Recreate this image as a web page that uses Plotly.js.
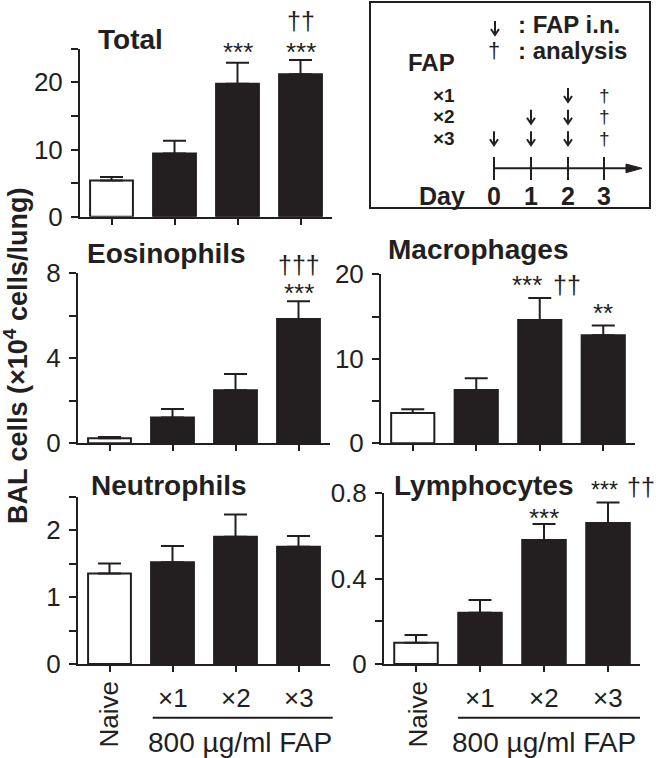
<!DOCTYPE html>
<html>
<head>
<meta charset="utf-8">
<script src="https://cdn.plot.ly/plotly-3.0.1.min.js"></script>
<style>html,body{margin:0;padding:0;background:#fff;}#chart{width:656px;height:758px;}</style>
</head>
<body>
<div id="chart"></div>
<script>
// ---- data ----
const categories = ['Naive', '×1', '×2', '×3'];
const totalMean = [5.4, 9.4, 19.8, 21.2];
const totalErr  = [0.5, 1.9, 3.1, 2.1];
const eosMean   = [0.24, 1.22, 2.5, 5.85];
const eosErr    = [0.06, 0.39, 0.76, 0.83];
const macMean   = [3.6, 6.3, 14.6, 12.8];
const macErr    = [0.43, 1.4, 2.6, 1.15];
const neuMean   = [1.35, 1.52, 1.9, 1.75];
const neuErr    = [0.15, 0.24, 0.33, 0.16];
const lymMean   = [0.10, 0.24, 0.58, 0.66];
const lymErr    = [0.036, 0.06, 0.075, 0.095];
const panelTitles = ['Total', 'Eosinophils', 'Macrophages', 'Neutrophils', 'Lymphocytes'];
const groupLabel = '800 µg/ml FAP';
const yTitle = 'BAL cells (×10<sup>4</sup> cells/lung)';
const days = ['0', '1', '2', '3'];
const regimens = ['×1', '×2', '×3'];
const totalTicks = [0, 10, 20], totalMinor = [5, 15, 25];
const eosTicks = [0, 4, 8], eosMinor = [2, 6];
const macTicks = [0, 10, 20], macMinor = [5, 15];
const neuTicks = [0, 1, 2], neuMinor = [0.5, 1.5, 2.5];
const lymTicks = [0, 0.4, 0.8], lymMinor = [0.2, 0.6];

// ---- helpers ----
const W = 656, H = 758;
const px = v => v / W;
const py = v => 1 - v / H;
const DARK = '#231f20';
const FONT = 'Liberation Sans, Arial, sans-serif';

function barTrace(mean, err, idx) {
  const s = idx === 1 ? '' : String(idx);
  return {
    type: 'bar', x: categories, y: mean, xaxis: 'x' + s, yaxis: 'y' + s,
    width: 0.68,
    marker: { color: ['#ffffff', DARK, DARK, DARK], line: { color: DARK, width: 2 } },
    error_y: { type: 'data', symmetric: false, array: err, arrayminus: err.map(() => 0),
               color: DARK, thickness: 2, width: 11.5 },
    hoverinfo: 'skip', showlegend: false
  };
}
const data = [
  barTrace(totalMean, totalErr, 1),
  barTrace(eosMean, eosErr, 2),
  barTrace(macMean, macErr, 3),
  barTrace(neuMean, neuErr, 4),
  barTrace(lymMean, lymErr, 5)
];

function xax(l, r, anchor) {
  return { domain: [px(l), px(r)], range: [-0.5, 3.5], type: 'category', anchor: anchor,
    showline: true, linewidth: 2, linecolor: DARK, ticks: 'outside', ticklen: 6, tickwidth: 2,
    tickcolor: DARK, showticklabels: false, showgrid: false, zeroline: false, fixedrange: true };
}
function yax(top, bot, range, majors, minors, anchor) {
  return { domain: [py(bot), py(top)], range: range, anchor: anchor,
    showline: true, linewidth: 2, linecolor: DARK, ticks: 'outside', ticklen: 7, tickwidth: 2,
    tickcolor: DARK, tickmode: 'array', tickvals: majors, ticklabelstandoff: 3,
    minor: { tickmode: 'array', tickvals: minors, ticks: 'outside', ticklen: 7, tickwidth: 2,
             tickcolor: DARK, showgrid: false },
    tickfont: { family: FONT, size: 26, color: DARK },
    showgrid: false, zeroline: false, fixedrange: true };
}

const layout = {
  width: W, height: H, margin: { l: 0, r: 0, t: 0, b: 0 },
  paper_bgcolor: '#fff', plot_bgcolor: 'rgba(0,0,0,0)', showlegend: false,
  font: { family: FONT, color: DARK },
  xaxis:  xax(80, 332, 'y'),
  yaxis:  yax(48.7, 216.7, [0, 25], totalTicks, totalMinor, 'x'),
  xaxis2: xax(78, 330, 'y2'),
  yaxis2: yax(273.3, 443.3, [0, 8], eosTicks, eosMinor, 'x2'),
  xaxis3: xax(381, 635, 'y3'),
  yaxis3: yax(274.3, 443.3, [0, 20], macTicks, macMinor, 'x3'),
  xaxis4: xax(78, 330, 'y4'),
  yaxis4: yax(496.5, 664, [0, 2.5], neuTicks, neuMinor, 'x4'),
  xaxis5: xax(384, 640, 'y5'),
  yaxis5: yax(493, 664, [0, 0.8], lymTicks, lymMinor, 'x5'),
  annotations: [],
  shapes: []
};

const A = layout.annotations, S = layout.shapes;
function txt(text, x, y, opt) {
  opt = opt || {};
  A.push({ text: text, xref: 'paper', yref: 'paper', x: px(x), y: py(y),
    xanchor: opt.xanchor || 'center', yanchor: 'middle', showarrow: false,
    textangle: opt.angle || 0,
    font: { family: FONT, size: opt.size || 25, color: DARK, weight: opt.bold ? 'bold' : 'normal' } });
}
function catTxt(text, axis, cat, y, opt) {
  opt = opt || {};
  A.push({ text: text, xref: axis, yref: 'paper', x: cat, y: py(y), xanchor: 'center', yanchor: 'middle',
    showarrow: false, textangle: opt.angle || 0,
    font: { family: FONT, size: opt.size || 25, color: DARK, weight: opt.bold ? 'bold' : 'normal' } });
}
function line(x0, y0, x1, y1, w) {
  S.push({ type: 'line', xref: 'paper', yref: 'paper', x0: px(x0), y0: py(y0), x1: px(x1), y1: py(y1),
    line: { color: DARK, width: w || 2 } });
}

// panel titles
txt(panelTitles[0], 96, 40, { bold: true, size: 28, xanchor: 'left' });
txt(panelTitles[1], 85, 254, { bold: true, size: 28, xanchor: 'left' });
txt(panelTitles[2], 386, 249, { bold: true, size: 28, xanchor: 'left' });
txt(panelTitles[3], 89, 485, { bold: true, size: 28, xanchor: 'left' });
txt(panelTitles[4], 392, 485, { bold: true, size: 28, xanchor: 'left' });

// y title
txt(yTitle, 16, 356, { bold: true, size: 27, angle: -90 });

// significance marks
catTxt('***', 'x', categories[2], 52, { size: 26 });
catTxt('***', 'x', categories[3], 52, { size: 26 });
catTxt('††', 'x', categories[3], 21, { size: 25 });
catTxt('***', 'x2', categories[3], 293, { size: 26 });
catTxt('†††', 'x2', categories[3], 265, { size: 25 });
txt('***', 527, 285, { size: 26 });
txt('††', 567, 285, { size: 25 });
catTxt('**', 'x3', categories[3], 313, { size: 26 });
catTxt('***', 'x5', categories[2], 518, { size: 26 });
txt('***', 604, 490, { size: 23 });
txt('††', 641, 487, { size: 25 });

// bottom category labels
[['x4', 108], ['x5', 417]].forEach(([ax, nx]) => {
  txt(categories[0], nx, 714.5, { angle: -90, size: 26 });
  for (let i = 1; i < 4; i++) catTxt(categories[i], ax, categories[i], 698, { size: 26 });
});
line(152.7, 717.7, 332.7, 717.7, 2);
line(458, 717.7, 640, 717.7, 2);
txt(groupLabel, 240, 742, { size: 28 });
txt(groupLabel, 543.5, 742, { size: 28 });

// ---- protocol box ----
S.push({ type: 'rect', xref: 'paper', yref: 'paper', x0: px(370), y0: py(2), x1: px(650), y1: py(208),
  line: { color: DARK, width: 2 }, fillcolor: 'rgba(0,0,0,0)' });
const dayX = [494, 531, 568, 604];
function arrow(x, yt, yb) {
  S.push({ type: 'path', xref: 'paper', yref: 'paper',
    path: `M${px(x)},${py(yt)} L${px(x)},${py(yb)} M${px(x - 4)},${py(yb - 6)} L${px(x)},${py(yb)} L${px(x + 4)},${py(yb - 6)}`,
    line: { color: DARK, width: 2 } });
}
arrow(495, 21, 35);
txt('†', 494, 50, { size: 22 });
txt(': FAP i.n.', 516, 25, { bold: true, size: 24, xanchor: 'left' });
txt(': analysis', 516, 50, { bold: true, size: 24, xanchor: 'left' });
txt('FAP', 406, 62.5, { bold: true, size: 24, xanchor: 'left' });
const rowY = [95, 116.7, 138.3];
regimens.forEach((r, i) => {
  txt(r, 431, rowY[i], { bold: true, size: 19, xanchor: 'left' });
  for (let d = 2 - i; d <= 2; d++) arrow(dayX[d], rowY[i] - 7, rowY[i] + 7);
  txt('†', dayX[3], rowY[i], { size: 19 });
});
line(494, 168.3, 630, 168.3, 2);
S.push({ type: 'path', xref: 'paper', yref: 'paper',
  path: `M${px(626)},${py(164)} L${px(642)},${py(168.3)} L${px(626)},${py(172.7)} Z`,
  fillcolor: DARK, line: { color: DARK, width: 1 } });
dayX.forEach(x => line(x, 157, x, 180, 2));
txt('Day', 417, 196, { bold: true, size: 25, xanchor: 'left' });
days.forEach((d, i) => txt(d, dayX[i], 196, { bold: true, size: 25 }));

Plotly.newPlot('chart', data, layout, { staticPlot: true, displayModeBar: false });
</script>
</body>
</html>
